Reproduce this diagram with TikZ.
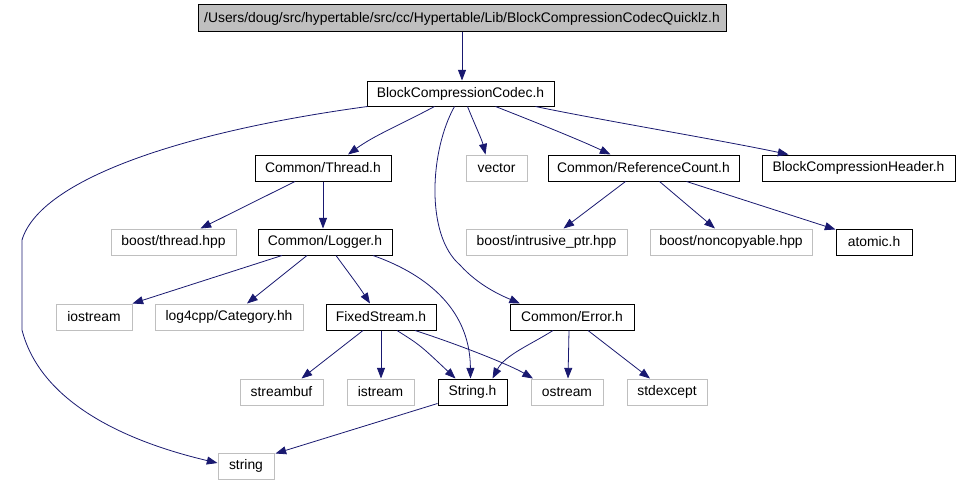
\documentclass[tikz,border=0pt]{standalone}
\usepackage{fontspec}
\setmainfont{Liberation Sans}
\usetikzlibrary{arrows.meta,calc}
\definecolor{edgec}{HTML}{191970}
\definecolor{grayb}{HTML}{BFBFBF}
\tikzset{
  nbox/.style={draw=black, line width=0.75pt, inner sep=0pt, font=\fontsize{10.4}{12}\selectfont},
  gbox/.style={nbox, draw=grayb},
  tbox/.style={nbox, fill=grayb},
  edge/.style={draw=edgec, line width=0.6pt, -{Triangle[length=8pt,width=6pt]}}
}
\newcommand\bx[7]{\node[#1, minimum width={(#5-#3)*0.75pt}, minimum height={(#6-#4)*0.75pt}] (#2) at ({(#3+#5)/2},{(#4+#6)/2}) {#7};}
\begin{document}
\begin{tikzpicture}[x=0.75pt,y=-0.75pt]
\useasboundingbox (0,0) rectangle (959,485);
\bx{tbox}{top}{198}{5}{726}{32}{/Users/doug/src/hypertable/src/cc/Hypertable/Lib/BlockCompressionCodecQuicklz.h}
\bx{nbox}{bcc}{367}{81}{554}{106}{BlockCompressionCodec.h}
\bx{nbox}{thread}{255}{155}{391}{181}{Common/Thread.h}
\bx{gbox}{vector}{466}{155}{527}{181}{vector}
\bx{nbox}{refc}{548}{155}{739}{181}{Common/ReferenceCount.h}
\bx{nbox}{bch}{762}{155}{955}{181}{BlockCompressionHeader.h}
\bx{gbox}{bthread}{111}{229}{236}{255}{boost/thread.hpp}
\bx{nbox}{logger}{258}{229}{392}{255}{Common/Logger.h}
\bx{gbox}{intr}{466}{229}{627}{255}{boost/intrusive\_ptr.hpp}
\bx{gbox}{noncp}{650}{229}{812}{255}{boost/noncopyable.hpp}
\bx{nbox}{atomic}{836}{229}{912}{255}{atomic.h}
\bx{gbox}{iostream}{56}{304}{132}{330}{iostream}
\bx{gbox}{log4}{155}{304}{303}{330}{log4cpp/Category.hh}
\bx{nbox}{fixed}{326}{304}{436}{330}{FixedStream.h}
\bx{nbox}{error}{510}{304}{634}{330}{Common/Error.h}
\bx{gbox}{streambuf}{240}{379}{323}{405}{streambuf}
\bx{gbox}{istream}{347}{379}{414}{405}{istream}
\bx{nbox}{strh}{438}{379}{507}{405}{String.h}
\bx{gbox}{ostream}{531}{379}{603}{405}{ostream}
\bx{gbox}{stdexc}{627}{379}{707}{405}{stdexcept}
\bx{gbox}{string}{218}{453}{274}{479}{string}

\draw[edge] (top.south) -- (top.south |- bcc.north);
\draw[edge] ($(bcc.south west)+(1,0)$) .. controls (180,132) and (40,180) .. (22,240) -- (22,330) .. controls (40,400) and (120,440) .. ($(string.west)+(0,-3)$);
\draw[edge] ($(bcc.south)+(-26,0)$) .. controls (400,125) and (375,135) .. ($(thread.north)+(25,0)$);
\draw[edge] ($(bcc.south)+(-6,0)$) .. controls (430,150) and (425,235) .. (460,265) .. controls (478,285) and (500,295) .. ($(error.north)+(-52,0)$);
\draw[edge] ($(bcc.south)+(7,0)$) .. controls (475,125) and (482,140) .. ($(vector.north)+(-11,0)$);
\draw[edge] ($(bcc.south)+(35,0)$) .. controls (530,120) and (580,140) .. ($(refc.north)+(-33,0)$);
\draw[edge] ($(bcc.south)+(75,0)$) .. controls (600,120) and (720,140) .. ($(bch.north)+(-70,0)$);
\draw[edge] ($(thread.south)+(-28,0)$) -- ($(bthread.north)+(27,0)$);
\draw[edge] (thread.south) -- (thread.south |- logger.north);
\draw[edge] ($(refc.south)+(-18,0)$) -- ($(intr.north)+(17,0)$);
\draw[edge] ($(refc.south)+(16,0)$) -- ($(noncp.north)+(-16,0)$);
\draw[edge] ($(refc.south)+(43,0)$) -- ($(atomic.north west)+(0,1)$);
\draw[edge] ($(logger.south)+(-43,0)$) -- (iostream.north east);
\draw[edge] ($(logger.south)+(-18,0)$) -- ($(log4.north)+(18,0)$);
\draw[edge] ($(logger.south)+(11,0)$) .. controls (348,272) and (358,285) .. ($(fixed.north)+(-11,0)$);
\draw[edge] ($(logger.south)+(48,0)$) .. controls (420,272) and (470,305) .. ($(strh.north)+(-2,0)$);
\draw[edge] ($(fixed.south)+(-18,0)$) -- ($(streambuf.north)+(20,0)$);
\draw[edge] (fixed.south) -- (fixed.south |- istream.north);
\draw[edge] ($(fixed.south)+(16,0)$) .. controls (420,345) .. ($(strh.north)+(-17,0)$);
\draw[edge] ($(fixed.south)+(34,0)$) .. controls (460,345) and (510,365) .. ($(ostream.north)+(-34,0)$);
\draw[edge] ($(error.south)+(-19,0)$) .. controls (530,345) and (505,355) .. ($(strh.north)+(20,0)$);
\draw[edge] ($(error.south)+(-3,0)$) -- ($(ostream.north)+(1,0)$);
\draw[edge] ($(error.south)+(16,0)$) -- ($(stdexc.north)+(-17,0)$);
\draw[edge] ($(strh.south west)+(0,-2)$) -- ($(string.north east)+(1,1)$);
\end{tikzpicture}
\end{document}
